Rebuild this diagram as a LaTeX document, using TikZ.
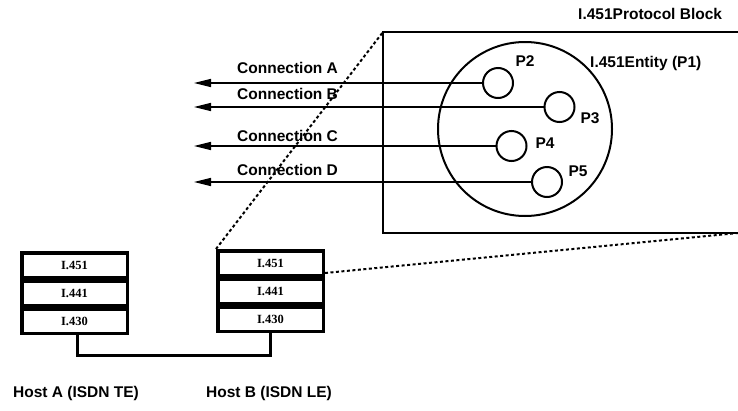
\documentclass[tikz,border=0pt]{standalone}
\usepackage{fontspec}
\setmainfont{Liberation Sans}
\newfontfamily\layerfont{Liberation Serif}
\usetikzlibrary{arrows.meta,positioning}
\tikzset{
  % protocol layer in a host stack
  layerbox/.style={rectangle, draw, line width=3.5pt, minimum width=105.5pt, minimum height=24.5pt,
                   inner sep=0pt, font=\layerfont\bfseries\fontsize{12.5}{12.5}\selectfont},
  % entity circles
  bigent/.style={circle, draw, line width=2pt, minimum size=174pt, inner sep=0pt},
  subent/.style={circle, draw, line width=2pt, minimum size=30pt, inner sep=0pt},
  % connection arrow
  connarrow/.style={-{Triangle[length=17pt,width=8pt]}, line width=1.5pt},
  % dotted zoom line
  zoomline/.style={line width=2pt, dash pattern=on 3pt off 2.5pt},
  % text labels
  lbl/.style={inner sep=0pt, font=\bfseries\fontsize{15.5}{15.5}\selectfont},
}
\begin{document}
\begin{tikzpicture}[x=1pt,y=-1pt]
  \useasboundingbox (0,0) rectangle (738,410);

  % Host stacks
  \node[layerbox] (a451) at (74.5,265) {I.451};
  \node[layerbox, below=0pt of a451] (a441) {I.441};
  \node[layerbox, below=0pt of a441] (a430) {I.430};
  \node[layerbox] (b451) at (270.5,263) {I.451};
  \node[layerbox, below=0pt of b451] (b441) {I.441};
  \node[layerbox, below=0pt of b441] (b430) {I.430};
  \draw[line width=3pt] ([xshift=3pt]a430.south) -- ++(0,20) -| (b430.south);

  \node[lbl, anchor=west] (hostA) at (13,393) {Host A (ISDN TE)};
  \node[lbl, anchor=west] (hostB) at (206,393) {Host B (ISDN LE)};

  % Protocol block
  \coordinate (blkTR) at (738,32);
  \coordinate (blkTL) at (383,32);
  \coordinate (blkBL) at (383,233);
  \coordinate (blkBR) at (738,233);
  \draw[line width=2pt] (blkTR) -- (blkTL) -- (blkBL) -- (blkBR);
  \node[lbl, anchor=west] (blkname) at (578,14) {I.451Protocol Block};

  % Zoom lines
  \draw[zoomline] (b451.north west) -- (blkTL);
  \draw[zoomline] ([yshift=4pt]b451.south east) -- (blkBR);

  % Entities
  \node[bigent] (p1) at (525,129) {};
  \node[lbl, anchor=west] (p1name) at (590,63) {I.451Entity (P1)};
  \node[subent] (p2) at (498,83) {};
  \node[subent] (p3) at (559.5,107) {};
  \node[subent] (p4) at (511.5,146) {};
  \node[subent] (p5) at (547,182) {};
  \node[lbl] (p2name) at (525,61.5) {P2};
  \node[lbl] (p3name) at (590,118) {P3};
  \node[lbl] (p4name) at (545,143.5) {P4};
  \node[lbl] (p5name) at (578,171.5) {P5};

  % Connections
  \coordinate (endA) at (194,83);
  \coordinate (endB) at (194,107);
  \coordinate (endC) at (194,146);
  \coordinate (endD) at (194,182);
  \draw[connarrow] (p2.west) -- (endA);
  \draw[connarrow] (p3.west) -- (endB);
  \draw[connarrow] (p4.west) -- (endC);
  \draw[connarrow] (p5.west) -- (endD);
  \node[lbl, anchor=west] (labA) at (237,68) {Connection A};
  \node[lbl, anchor=west] (labB) at (237,94) {Connection B};
  \node[lbl, anchor=west] (labC) at (237,136) {Connection C};
  \node[lbl, anchor=west] (labD) at (237,170) {Connection D};
\end{tikzpicture}
\end{document}
